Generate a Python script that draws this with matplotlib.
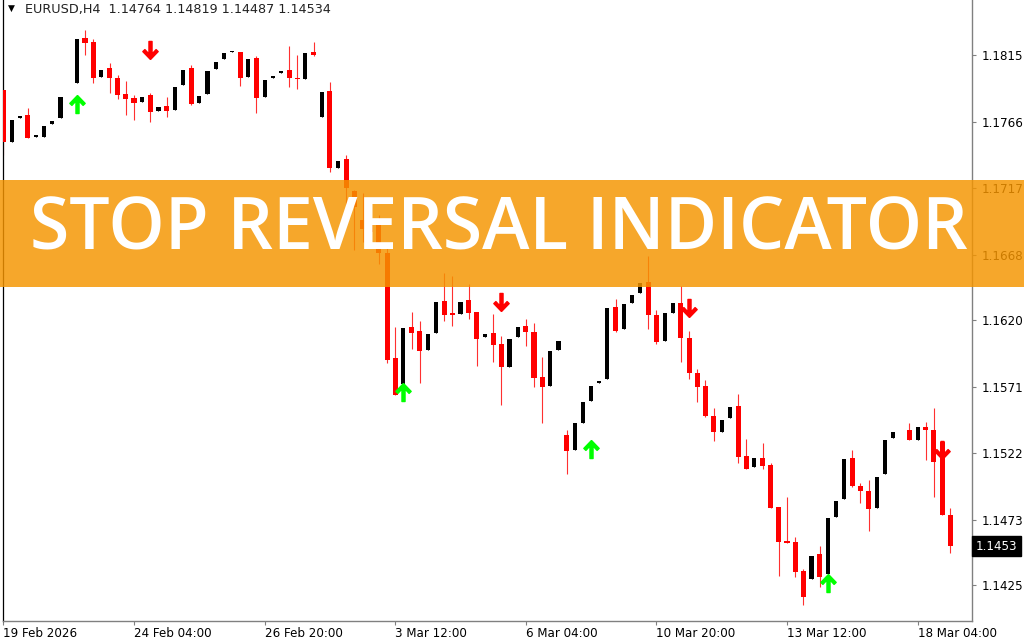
import numpy as np
import matplotlib.pyplot as plt
from matplotlib.path import Path
from matplotlib.patches import Rectangle

# EURUSD H4 bars (index -> open, high, low, close); None = bar not visible
opens = [1.17892, 1.17510, 1.17686, 1.17709, 1.17547, 1.17547, 1.17642, 1.17686, None, 1.17944,
         1.18275, 1.18246, 1.17988, 1.18054, 1.17981, 1.17863, 1.17834, 1.17804, 1.17856, 1.17738,
         1.17775, 1.17745, 1.17929, 1.18054, 1.17797, 1.17863, 1.18047, 1.18121, 1.18172, 1.18172,
         1.17988, 1.18128, 1.17841, 1.17981, 1.18018, 1.18040, 1.17981, 1.17973, 1.18172, 1.17694,
         1.17885, 1.17319, 1.17385, 1.17149, 1.16936, 1.16899, 1.16936, 1.16693, 1.15921, 1.15729,
         1.16149, 1.16119, 1.15979, 1.16105, 1.16340, 1.16252, 1.16244, 1.16347, 1.16259, 1.16075,
         1.16105, 1.16024, 1.15854, 1.16075, 1.16156, 1.16112, 1.15781, 1.15715, 1.15979, 1.15354,
         1.15244, 1.15442, 1.15604, 1.15737, 1.15766, 1.16296, 1.16134, 1.16325, 1.16399, 1.16480,
         1.16237, 1.16046, 1.16252, 1.16325, 1.16068, 1.15810, 1.15715, 1.15494, 1.15376, 1.15479,
         1.15567, 1.15200, 1.15118, 1.15185, 1.15133, 1.14824, 1.14574, 1.14567, 1.14353, 1.14294,
         1.14478, 1.14331, 1.14751, 1.14883, 1.15185, 1.14979, 1.14942, 1.14817, 1.15067, 1.15332,
         None, 1.15391, 1.15317, 1.15413, 1.15391, 1.15303, 1.14764]
highs = [1.17892, 1.17672, 1.17701, 1.17760, 1.17552, 1.17628, 1.17664, 1.17841, None, 1.18268,
         1.18334, 1.18268, 1.18040, 1.18091, 1.18003, 1.17959, 1.17856, 1.17841, 1.17870, 1.17767,
         1.17841, 1.17915, 1.18040, 1.18076, 1.17848, 1.18032, 1.18099, 1.18165, 1.18177, 1.18172,
         1.18121, 1.18143, 1.17966, 1.17995, 1.18032, 1.18216, 1.18150, 1.18165, 1.18246, 1.17878,
         1.17951, 1.17370, 1.17414, 1.17157, 1.17135, 1.16936, 1.16973, 1.16730, 1.16149, 1.16141,
         1.16259, 1.16193, 1.16097, 1.16333, 1.16546, 1.16524, 1.16333, 1.16465, 1.16259, 1.16097,
         1.16244, 1.16082, 1.16060, 1.16149, 1.16207, 1.16178, 1.15928, 1.15972, 1.16046, 1.15391,
         1.15442, 1.15597, 1.15715, 1.15751, 1.16288, 1.16355, 1.16318, 1.16384, 1.16472, 1.16671,
         1.16274, 1.16252, 1.16325, 1.16450, 1.16119, 1.15840, 1.15759, 1.15553, 1.15464, 1.15560,
         1.15656, 1.15325, 1.15185, 1.15295, 1.15148, 1.14824, 1.14898, 1.14603, 1.14368, 1.14464,
         1.14537, 1.14743, 1.14868, 1.15177, 1.15244, 1.15001, 1.15023, 1.15045, 1.15317, 1.15376,
         None, 1.15442, 1.15413, 1.15450, 1.15553, 1.15310, 1.14819]
lows = [1.17414, 1.17510, 1.17686, 1.17539, 1.17547, 1.17547, 1.17642, 1.17686, None, 1.17944,
        1.18150, 1.17944, 1.17988, 1.17870, 1.17826, 1.17709, 1.17672, 1.17804, 1.17657, 1.17738,
        1.17694, 1.17745, 1.17929, 1.17782, 1.17797, 1.17863, 1.18047, 1.18121, 1.18172, 1.17922,
        1.17988, 1.17723, 1.17841, 1.17981, 1.18018, 1.17915, 1.17900, 1.17973, 1.18143, 1.17694,
        1.17289, 1.17319, 1.16914, 1.16715, 1.16774, 1.16789, 1.16612, 1.15884, 1.15648, 1.15729,
        1.15987, 1.15737, 1.15979, 1.16105, 1.16193, 1.16156, 1.16244, 1.16207, 1.15862, 1.16075,
        1.15891, 1.15575, 1.15854, 1.16075, 1.16009, 1.15707, 1.15442, 1.15715, 1.15979, 1.15067,
        1.15244, 1.15442, 1.15604, 1.15737, 1.15766, 1.16112, 1.16134, 1.16325, 1.16399, 1.16134,
        1.16024, 1.16046, 1.16252, 1.15891, 1.15766, 1.15597, 1.15486, 1.15310, 1.15376, 1.15479,
        1.15148, 1.15104, 1.15118, 1.15104, 1.14817, 1.14316, 1.14559, 1.14309, 1.14103, 1.14294,
        1.14236, 1.14331, 1.14751, 1.14883, 1.14971, 1.14854, 1.14648, 1.14817, 1.15067, 1.15332,
        None, 1.15317, 1.15317, 1.15170, 1.14898, 1.14765, 1.14487]
closes = [1.17510, 1.17672, 1.17701, 1.17539, 1.17552, 1.17628, 1.17664, 1.17841, None, 1.18268,
          1.18238, 1.17981, 1.18040, 1.17981, 1.17856, 1.17826, 1.17797, 1.17841, 1.17731, 1.17767,
          1.17738, 1.17915, 1.18040, 1.17789, 1.17848, 1.18032, 1.18099, 1.18165, 1.18177, 1.17981,
          1.18121, 1.17834, 1.17966, 1.17995, 1.18032, 1.17981, 1.17973, 1.18165, 1.18150, 1.17878,
          1.17319, 1.17370, 1.17171, 1.17032, 1.16870, 1.16848, 1.16693, 1.15906, 1.15648, 1.16141,
          1.16105, 1.15972, 1.16097, 1.16333, 1.16237, 1.16237, 1.16333, 1.16252, 1.16060, 1.16097,
          1.16016, 1.15854, 1.16060, 1.16149, 1.16112, 1.15774, 1.15707, 1.15972, 1.16046, 1.15236,
          1.15442, 1.15597, 1.15715, 1.15751, 1.16288, 1.16119, 1.16318, 1.16384, 1.16472, 1.16237,
          1.16038, 1.16252, 1.16325, 1.16068, 1.15810, 1.15707, 1.15494, 1.15376, 1.15464, 1.15560,
          1.15192, 1.15104, 1.15185, 1.15126, 1.14817, 1.14567, 1.14559, 1.14346, 1.14162, 1.14464,
          1.14309, 1.14743, 1.14868, 1.15177, 1.14979, 1.14942, 1.14810, 1.15045, 1.15317, 1.15376,
          None, 1.15317, 1.15413, 1.15391, 1.15155, 1.14765, 1.14534]

# indicator arrows
up_bars = [9, 49, 72, 101]
up_prices = [1.17789, 1.15670, 1.15251, 1.14265]
down_bars = [18, 61, 84, 115]
down_prices = [1.18190, 1.16329, 1.16292, 1.15244]

tick_bars = [0, 16, 32, 48, 64, 80, 96, 112]
tick_labels = ['19 Feb 2026', '24 Feb 04:00', '26 Feb 20:00', '3 Mar 12:00',
               '6 Mar 04:00', '10 Mar 20:00', '13 Mar 12:00', '18 Mar 04:00']
price_ticks = [1.1815, 1.1766, 1.1717, 1.1668, 1.1620, 1.1571, 1.1522, 1.1473, 1.1425]
last_price = 1.14534

W, H = 1024, 640
fig = plt.figure(figsize=(W / 100, H / 100), dpi=100)
ax = fig.add_axes([2.5 / W, 19 / H, 969 / W, 621 / H])

idx = np.array([i for i in range(len(opens)) if opens[i] is not None])
o = np.array([opens[i] for i in idx])
h = np.array([highs[i] for i in idx])
l = np.array([lows[i] for i in idx])
c = np.array([closes[i] for i in idx])
bull = c >= o

body_h = np.maximum(np.abs(c - o), 0.00011)
body_b = np.minimum(o, c)

ax.vlines(idx[~bull], l[~bull], h[~bull], color='#ff3030', lw=0.8, zorder=2)
ax.bar(idx[~bull], body_h[~bull], bottom=body_b[~bull], width=0.62, color='#ff0000', zorder=3)
ax.vlines(idx[bull], l[bull], h[bull], color='black', lw=0.8, zorder=2)
ax.bar(idx[bull], body_h[bull], bottom=body_b[bull], width=0.5, color='black', zorder=3)

# thick arrow glyphs
arrow_up = Path([(0, 1.0), (0.85, 0.12), (0.62, -0.1), (0.17, 0.38), (0.17, -1.0),
                 (-0.17, -1.0), (-0.17, 0.38), (-0.62, -0.1), (-0.85, 0.12), (0, 1.0)])
arrow_dn = Path([(x, -y) for x, y in arrow_up.vertices])
ax.plot(up_bars, up_prices, ls='none', marker=arrow_up, ms=13, color='#00ff00',
        mec='#00ff00', zorder=4)
ax.plot(down_bars, down_prices, ls='none', marker=arrow_dn, ms=13, color='#ff0000',
        mec='#ff0000', zorder=4)

ax.set_xlim(-0.11, 118.6)
ax.set_ylim(1.13985, 1.18555)

ax.yaxis.tick_right()
ax.set_yticks(price_ticks, labels=['%.4f' % p for p in price_ticks], fontsize=8.6)
ax.set_xticks(tick_bars, labels=tick_labels, ha='left', fontsize=8.6)
ax.tick_params(axis='y', length=3, width=0.8, color='#808080', pad=4)
ax.tick_params(axis='x', length=3, width=0.8, color='#808080', pad=1.5)

ax.spines['top'].set_visible(False)
ax.spines['left'].set_color('black')
ax.spines['left'].set_linewidth(0.9)
for s in ['right', 'bottom']:
    ax.spines[s].set_color('#808080')
    ax.spines[s].set_linewidth(1.0)

# current price box
ax.text(1.0045, last_price, '%.4f' % last_price, transform=ax.get_yaxis_transform(),
        color='white', fontsize=8.6, va='center', ha='left', clip_on=False,
        bbox=dict(boxstyle='square,pad=0.3', fc='black', ec='black'))

fig.text(8 / W, 1 - 8 / H, '\u25bc', fontsize=6.5, va='center', ha='left', color='black')
fig.text(25 / W, 1 - 9.5 / H, 'EURUSD,H4  1.14764 1.14819 1.14487 1.14534',
         fontsize=9.2, va='center', ha='left', color='#222222')

# orange banner over the chart
fig.add_artist(Rectangle((0, 1 - 287 / H), 1, 107 / H, transform=fig.transFigure,
                         color='#f59500', alpha=0.83, lw=0, zorder=5))
fig.text(499 / W, 1 - 230 / H, 'STOP REVERSAL INDICATOR', fontsize=51.5,
         family='Open Sans', fontweight='semibold', color='white',
         ha='center', va='center', zorder=6)

fig.savefig('out.png', dpi=100)
